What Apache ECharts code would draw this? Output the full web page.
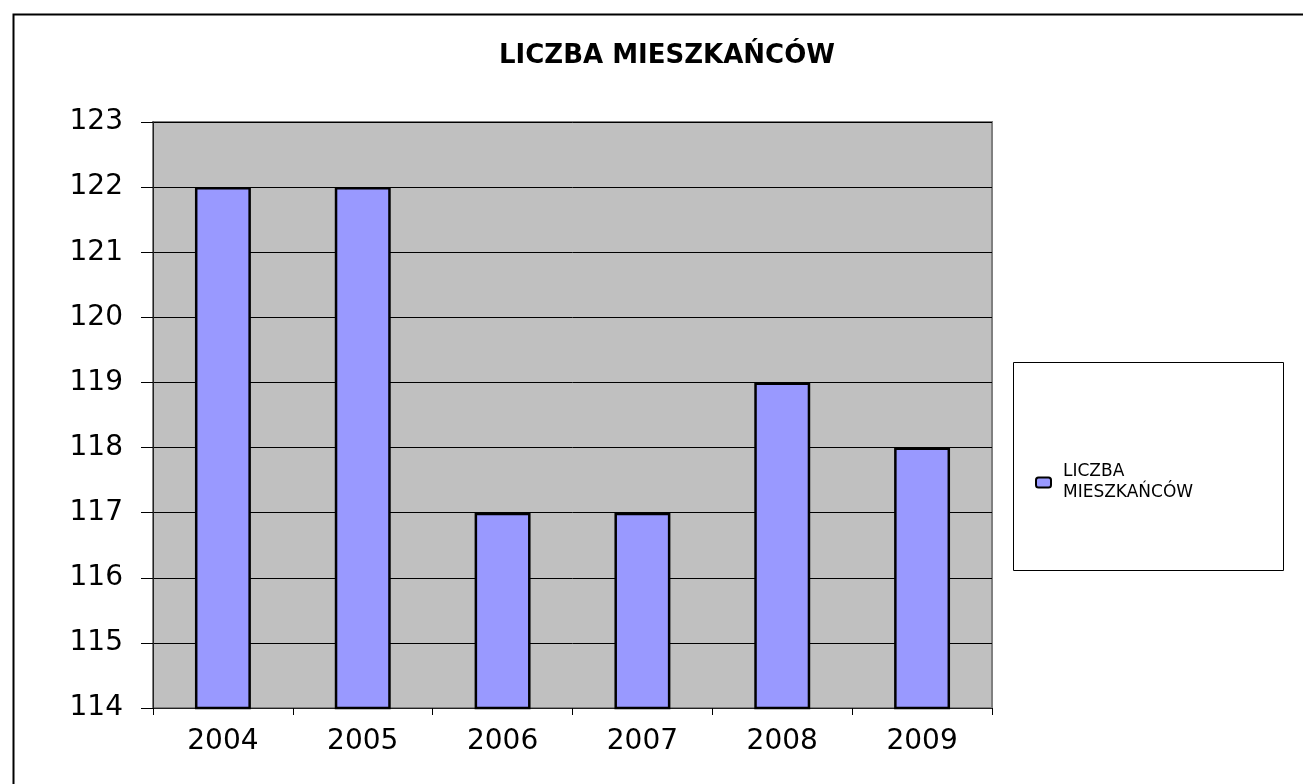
<!DOCTYPE html>
<html>
<head>
<meta charset="utf-8">
<script src="https://cdn.jsdelivr.net/npm/echarts@6/dist/echarts.min.js"></script>
<style>
html,body{margin:0;padding:0;background:#fff;}
#chart{width:1303px;height:784px;}
</style>
</head>
<body>
<div id="chart"></div>
<script>
var titleText = 'LICZBA MIESZKAŃCÓW';
var seriesName = 'LICZBA MIESZKAŃCÓW';
var categories = ['2004', '2005', '2006', '2007', '2008', '2009'];
var values = [122, 122, 117, 117, 119, 118];
var yMin = 114, yMax = 123, yInterval = 1;

var chart = echarts.init(document.getElementById('chart'));
var font = '"DejaVu Sans", "Liberation Sans", Arial, sans-serif';
chart.setOption({
  animation: false,
  backgroundColor: '#ffffff',
  textStyle: { fontFamily: font },
  title: {
    text: titleText,
    left: 494,
    top: 38,
    textStyle: { fontFamily: font, fontSize: 26, fontWeight: 'bold', color: '#000' }
  },
  graphic: [
    { type: 'rect', left: 11, top: 12, z: -10, silent: true,
      shape: { x: 0, y: 0, width: 1400, height: 900 },
      style: { fill: 'none', stroke: '#000', lineWidth: 2 } },
    { type: 'rect', z: -5, silent: true,
      shape: { x: 1013.5, y: 362.5, width: 270, height: 208 },
      style: { fill: '#fff', stroke: '#000', lineWidth: 1 } }
  ],
  legend: {
    left: 1035,
    top: 451,
    padding: 0,
    itemWidth: 15,
    itemHeight: 10,
    data: [seriesName],
    formatter: function () { return 'LICZBA\nMIESZKAŃCÓW'; },
    textStyle: { fontFamily: font, fontSize: 17, lineHeight: 21, color: '#000', padding: [21, 0, 0, 7] }
  },
  grid: {
    left: 153, right: 311, top: 122, bottom: 76,
    show: true,
    backgroundColor: '#C0C0C0',
    borderColor: '#808080',
    borderWidth: 2
  },
  xAxis: {
    type: 'category',
    data: categories,
    boundaryGap: true,
    axisLine: { lineStyle: { color: '#222', width: 1 } },
    axisTick: { show: true, alignWithLabel: false, length: 7, lineStyle: { color: '#000' } },
    axisLabel: { fontSize: 28, lineHeight: 28, color: '#000', margin: 20, fontFamily: font },
    splitLine: { show: false }
  },
  yAxis: {
    type: 'value',
    min: yMin, max: yMax, interval: yInterval,
    axisLine: { show: true, lineStyle: { color: '#222', width: 1 } },
    axisTick: { show: true, length: 12, lineStyle: { color: '#000' } },
    axisLabel: { fontSize: 28, color: '#000', margin: 30, fontFamily: font },
    splitLine: { show: true, lineStyle: { color: '#000', width: 1 } }
  },
  series: [{
    name: seriesName,
    type: 'bar',
    data: values,
    barWidth: '40%',
    itemStyle: { color: '#9999FF', borderColor: '#000', borderWidth: 2.5 }
  }]
});
</script>
</body>
</html>
